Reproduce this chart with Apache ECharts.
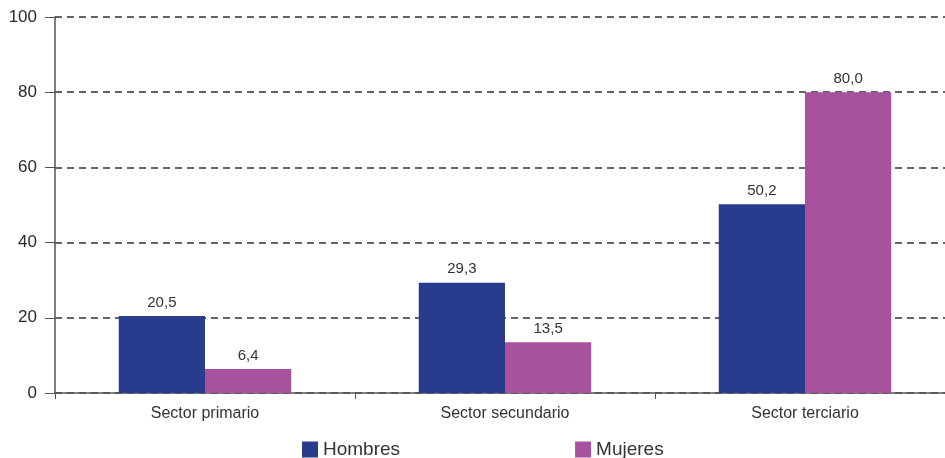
<!DOCTYPE html>
<html>
<head>
<meta charset="utf-8">
<script src="https://cdn.jsdelivr.net/npm/echarts@6/dist/echarts.min.js"></script>
<style>
  html, body { margin: 0; padding: 0; background: #fff; }
  #chart { width: 945px; height: 458px; }
</style>
</head>
<body>
<div id="chart"></div>
<script>
// datos por sector
const categories = ['Sector primario', 'Sector secundario', 'Sector terciario']
const hombres = [20.5, 29.3, 50.2]
const mujeres = [6.4, 13.5, 80.0]
const seriesNames = ['Hombres', 'Mujeres']

const fmt = p => p.value.toFixed(1).replace('.', ',')

const myChart = echarts.init(document.getElementById('chart'))
myChart.setOption({
  animation: false,
  textStyle: { fontFamily: 'Liberation Sans, Arial, sans-serif' },
  grid: { left: 55, width: 900, top: 17, bottom: 65, outerBoundsMode: 'none' },
  legend: {
    data: seriesNames,
    bottom: -6,
    left: 297,
    icon: 'rect',
    itemWidth: 16,
    itemHeight: 16,
    itemGap: 175,
    textStyle: { color: '#333', fontSize: 19 }
  },
  xAxis: {
    type: 'category',
    data: categories,
    axisLine: { lineStyle: { color: '#555', width: 1.5 } },
    axisTick: { show: true, length: 6, lineStyle: { color: '#555' } },
    axisLabel: { color: '#333', fontSize: 16, margin: 13 }
  },
  yAxis: {
    type: 'value',
    min: 0,
    max: 100,
    interval: 20,
    axisLine: { show: true, lineStyle: { color: '#555', width: 1.5 } },
    axisTick: { show: true, length: 10, lineStyle: { color: '#555' } },
    axisLabel: { color: '#2a2a2a', fontSize: 17, margin: 18 },
    splitLine: { lineStyle: { color: '#333', type: [7, 5], width: 1.5 } }
  },
  series: [
    {
      name: seriesNames[0],
      type: 'bar',
      data: hombres,
      barGap: '0%',
      barCategoryGap: '42.5%',
      itemStyle: { color: '#283b8c' },
      label: { show: true, position: 'top', distance: 6, color: '#333', fontSize: 15, formatter: fmt }
    },
    {
      name: seriesNames[1],
      type: 'bar',
      data: mujeres,
      itemStyle: { color: '#a8519f' },
      label: { show: true, position: 'top', distance: 6, color: '#333', fontSize: 15, formatter: fmt }
    }
  ]
})
</script>
</body>
</html>
